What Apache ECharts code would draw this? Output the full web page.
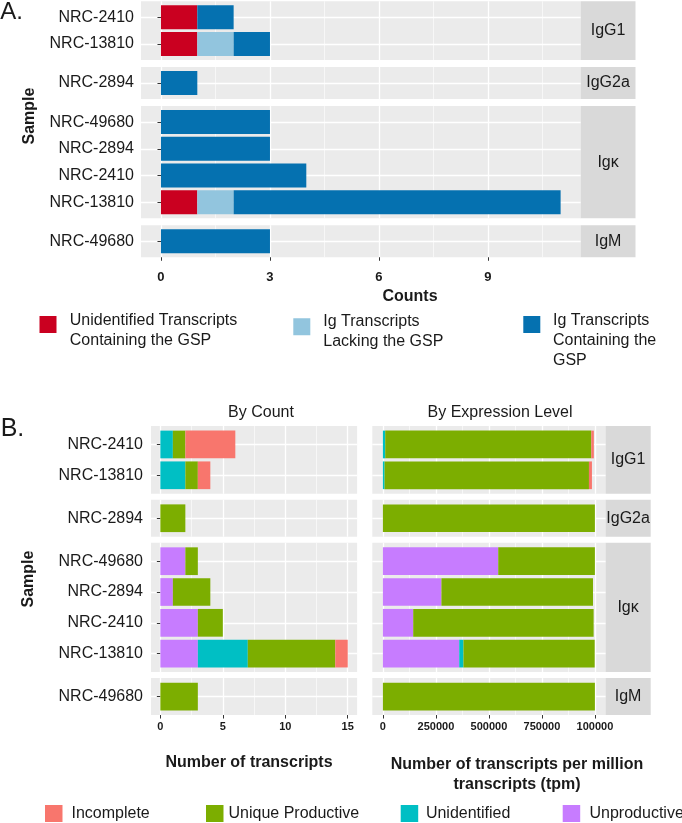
<!DOCTYPE html>
<html>
<head>
<meta charset="utf-8">
<script src="https://cdn.jsdelivr.net/npm/echarts@6/dist/echarts.min.js"></script>
<style>html,body{margin:0;padding:0;background:#fff}#c{width:682px;height:823px}</style>
</head>
<body>
<div id="c"></div>
<script>
// ================= DATA =================
const facets = ['IgG1', 'IgG2a', 'Igκ', 'IgM'];
// samples per facet, listed bottom-to-top
const facetSamples = [
  ['NRC-13810', 'NRC-2410'],
  ['NRC-2894'],
  ['NRC-13810', 'NRC-2410', 'NRC-2894', 'NRC-49680'],
  ['NRC-49680']
];

// Panel A: counts (per facet, per sample)
const aSeriesNames = ['Unidentified Transcripts Containing the GSP', 'Ig Transcripts Lacking the GSP', 'Ig Transcripts Containing the GSP'];
const aLegendLines = [['Unidentified Transcripts', 'Containing the GSP'], ['Ig Transcripts', 'Lacking the GSP'], ['Ig Transcripts', 'Containing the', 'GSP']];
const aUnidentifiedGSP = [[1, 1], [0], [1, 0, 0, 0], [0]];
const aIgLackingGSP    = [[1, 0], [0], [1, 0, 0, 0], [0]];
const aIgContainingGSP = [[1, 1], [1], [9, 4, 3, 3], [3]];
const aTicks = [0, 3, 6, 9];
const aMinorTicks = [1.5, 4.5, 7.5, 10.5];

// Panel B
const bSeriesNames = ['Unproductive', 'Unidentified', 'Unique Productive', 'Incomplete'];
const bUnproductiveCount = [[0, 0], [0], [3, 3, 1, 2], [0]];
const bUnidentifiedCount = [[2, 1], [0], [4, 0, 0, 0], [0]];
const bUniqueProdCount   = [[1, 1], [2], [7, 2, 3, 1], [3]];
const bIncompleteCount   = [[1, 4], [0], [1, 0, 0, 0], [0]];
const bCountTicks = [0, 5, 10, 15];
const bCountMinorTicks = [2.5, 7.5, 12.5];

const bUnproductiveTpm = [[0, 0], [0], [360000, 143000, 276000, 544000], [0]];
const bUnidentifiedTpm = [[8000, 11000], [0], [20000, 0, 0, 0], [0]];
const bUniqueProdTpm   = [[964000, 972000], [1000000], [619000, 851000, 715000, 456000], [1000000]];
const bIncompleteTpm   = [[14000, 12000], [0], [0, 0, 0, 0], [0]];
const bTpmTicks = [0, 250000, 500000, 750000, 1000000];
const bTpmTickLabels = ['0', '250000', '500000', '750000', '100000'];
const bTpmMinorTicks = [125000, 375000, 625000, 875000];

// ================= STYLE / LAYOUT =================
const FONT = "'Liberation Sans', Arial, Helvetica, sans-serif";
const NARROW = "'Liberation Sans Narrow', 'Liberation Sans', Arial, sans-serif";
const TXT = '#1a1a1a';
const colA = ['#CA0020', '#92C5DE', '#0571B0'];
const colB = ['#C77CFF', '#00BFC4', '#7CAE00', '#F8766D'];

function facetLayout(start, unit, gap) {
  let y = start;
  return facetSamples.map(s => {
    const h = (s.length + 0.2) * unit;
    const r = { top: y, height: h };
    y += h + gap;
    return r;
  });
}
const layA = facetLayout(1.3, 26.7, 7);
const layB = facetLayout(426, 30.8, 6);

const grids = [], xAxes = [], yAxes = [], series = [], graphics = [], legends = [];

function renderBar(params, api) {
  const a = api.coord([api.value(0), api.value(2)]);
  const b = api.coord([api.value(1), api.value(2)]);
  const h = api.size([0, 0.9])[1];
  return { type: 'rect', shape: { x: a[0], y: a[1] - h / 2, width: b[0] - a[0], height: h }, style: api.style() };
}

function addPanel(cfg) {
  facets.forEach((f, fi) => {
    const gi = grids.length;
    const lay = cfg.layout[fi];
    const samples = facetSamples[fi];
    const n = samples.length;
    const isLast = fi === facets.length - 1;
    grids.push({ left: cfg.left, top: lay.top, width: cfg.width, height: lay.height, show: true,
      backgroundColor: '#EBEBEB', borderWidth: 0, containLabel: false, outerBoundsMode: 'none' });
    const xi = xAxes.length;
    xAxes.push({ type: 'value', gridIndex: gi, min: cfg.xMin, max: cfg.xMax, position: 'bottom',
      axisLine: { show: false },
      axisTick: { show: isLast, customValues: cfg.majors, length: 3.5, lineStyle: { color: '#333', width: 1 } },
      axisLabel: { show: isLast, customValues: cfg.majors, margin: cfg.xMargin, fontSize: cfg.xFont, fontWeight: 'bold',
        fontFamily: cfg.xFamily, color: TXT, formatter: v => cfg.tickLabels[cfg.majors.indexOf(v)] },
      splitLine: { show: true, lineStyle: { color: '#FFFFFF', width: 1.3 } } });
    xAxes.push({ type: 'value', gridIndex: gi, min: cfg.xMin, max: cfg.xMax, position: 'top',
      axisLine: { show: false }, axisTick: { show: false, customValues: cfg.minors }, axisLabel: { show: false },
      splitLine: { show: true, lineStyle: { color: '#FFFFFF', width: 0.6 } } });
    const yi = yAxes.length;
    const rows = samples.map((_, i) => i + 1);
    yAxes.push({ type: 'value', gridIndex: gi, min: 0.4, max: n + 0.6,
      axisLine: { show: false },
      axisTick: { show: cfg.showY, customValues: rows, length: 3.5, lineStyle: { color: '#333', width: 1 } },
      axisLabel: { show: cfg.showY, customValues: rows, margin: cfg.yMargin, fontSize: 16, fontFamily: FONT, color: TXT,
        formatter: v => samples[Math.round(v) - 1] },
      splitLine: { show: true, lineStyle: { color: '#FFFFFF', width: 1.3 } } });
    const cum = samples.map(() => 0);
    cfg.seriesDefs.forEach(sd => {
      const data = [];
      samples.forEach((s, i) => {
        const v = sd.values[fi][i];
        if (v > 0) data.push([cum[i], cum[i] + v, i + 1]);
        cum[i] += v;
      });
      series.push({ type: 'custom', name: sd.name, xAxisIndex: xi, yAxisIndex: yi, coordinateSystem: 'cartesian2d',
        itemStyle: { color: sd.color }, encode: { x: [0, 1], y: 2 }, renderItem: renderBar, data: data, silent: true });
    });
    if (cfg.strip) {
      graphics.push({ type: 'rect', silent: true, shape: { x: cfg.strip[0], y: lay.top, width: cfg.strip[1] - cfg.strip[0], height: lay.height },
        style: { fill: '#D9D9D9' } });
      graphics.push({ type: 'text', silent: true, x: (cfg.strip[0] + cfg.strip[1]) / 2, y: lay.top + lay.height / 2,
        style: { text: f, fill: TXT, font: '16px ' + FONT, align: 'center', verticalAlign: 'middle', textAlign: 'center', textVerticalAlign: 'middle' } });
    }
  });
}

// Panel A
addPanel({ left: 141, width: 439.6, layout: layA, xMin: -0.55, xMax: 11.55, majors: aTicks, minors: aMinorTicks,
  tickLabels: aTicks.map(String), xMargin: 14, xFont: 13, xFamily: NARROW, showY: true, yMargin: 7, strip: [580.6, 635.5],
  seriesDefs: [
    { name: aSeriesNames[0], color: colA[0], values: aUnidentifiedGSP },
    { name: aSeriesNames[1], color: colA[1], values: aIgLackingGSP },
    { name: aSeriesNames[2], color: colA[2], values: aIgContainingGSP }
  ] });

// Panel B left (count)
addPanel({ left: 151, width: 206.1, layout: layB, xMin: -0.75, xMax: 15.75, majors: bCountTicks, minors: bCountMinorTicks,
  tickLabels: bCountTicks.map(String), xMargin: 6.5, xFont: 11, xFamily: FONT, showY: true, yMargin: 8, strip: null,
  seriesDefs: [
    { name: bSeriesNames[0], color: colB[0], values: bUnproductiveCount },
    { name: bSeriesNames[1], color: colB[1], values: bUnidentifiedCount },
    { name: bSeriesNames[2], color: colB[2], values: bUniqueProdCount },
    { name: bSeriesNames[3], color: colB[3], values: bIncompleteCount }
  ] });

// Panel B right (tpm)
addPanel({ left: 372.3, width: 233.2, layout: layB, xMin: -50000, xMax: 1050000, majors: bTpmTicks, minors: bTpmMinorTicks,
  tickLabels: bTpmTickLabels, xMargin: 6.5, xFont: 11, xFamily: FONT, showY: false, yMargin: 8, strip: [605.5, 650.7],
  seriesDefs: [
    { name: bSeriesNames[0], color: colB[0], values: bUnproductiveTpm },
    { name: bSeriesNames[1], color: colB[1], values: bUnidentifiedTpm },
    { name: bSeriesNames[2], color: colB[2], values: bUniqueProdTpm },
    { name: bSeriesNames[3], color: colB[3], values: bIncompleteTpm }
  ] });

// Legends for panel A: the key square sits at the top of a taller (transparent) icon box,
// so the multi-line label (centred on the box) starts level with the key.
function addLegend(name, lines, left, iconTop, shift, padLeft) {
  const lh = 19.7;
  const boxH = 17 + 2 * shift;
  const textTop = boxH / 2 - lines.length * lh / 2;
  const top = iconTop + Math.min(0, textTop);
  legends.push({ data: [name], left: left, top: top, padding: 0,
    icon: 'path://M0,0L17,0L17,17L0,17Z M0,' + boxH + 'L0.01,' + boxH,
    itemWidth: 17, itemHeight: boxH, selectedMode: false, formatter: () => lines.join('\n'),
    textStyle: { fontSize: 16, fontFamily: FONT, color: TXT, lineHeight: lh, padding: [0, 0, 0, padLeft] } });
}
addLegend(aSeriesNames[0], aLegendLines[0], 39.5, 316, 6.15, 8.3);
addLegend(aSeriesNames[1], aLegendLines[1], 293.3, 318.3, 4.9, 8);
addLegend(aSeriesNames[2], aLegendLines[2], 523.3, 316, 16.15, 7.7);

function addLegendB(name, left, padLeft) {
  legends.push({ data: [name], left: left, top: 805, padding: 0, icon: 'rect', itemWidth: 17.5, itemHeight: 17,
    selectedMode: false,
    textStyle: { fontSize: 16, fontFamily: FONT, color: TXT, lineHeight: 16, padding: [1, 0, 0, padLeft] } });
}
addLegendB('Incomplete', 45, 4);
addLegendB('Unique Productive', 206, 0);
addLegendB('Unidentified', 400.7, 2.7);
addLegendB('Unproductive', 562.7, 4.3);

// Titles / labels
function txt(text, x, y, font, rot) {
  graphics.push({ type: 'text', silent: true, x: x, y: y, rotation: rot || 0,
    style: { text: text, fill: TXT, font: font, align: 'center', verticalAlign: 'middle', textAlign: 'center', textVerticalAlign: 'middle', lineHeight: 19.5 } });
}
txt('A.', 11.5, 12, '24px ' + FONT);
txt('B.', 12.5, 429.5, '25px ' + FONT);
txt('Sample', 29.5, 116, 'bold 16px ' + FONT, Math.PI / 2);
txt('Sample', 29, 579, 'bold 16px ' + FONT, Math.PI / 2);
txt('Counts', 410, 297, 'bold 16px ' + FONT);
txt('By Count', 261, 413, '16px ' + FONT);
txt('By Expression Level', 500, 412.5, '16px ' + FONT);
txt('Number of transcripts', 249, 763, 'bold 16px ' + FONT);
txt('Number of transcripts per million\ntranscripts (tpm)', 517, 774.7, 'bold 16px ' + FONT);

const chart = echarts.init(document.getElementById('c'), null, { renderer: 'canvas' });
chart.setOption({
  animation: false,
  backgroundColor: '#FFFFFF',
  textStyle: { fontFamily: FONT },
  grid: grids,
  xAxis: xAxes,
  yAxis: yAxes,
  legend: legends,
  series: series,
  graphic: { elements: graphics }
});
</script>
</body>
</html>
